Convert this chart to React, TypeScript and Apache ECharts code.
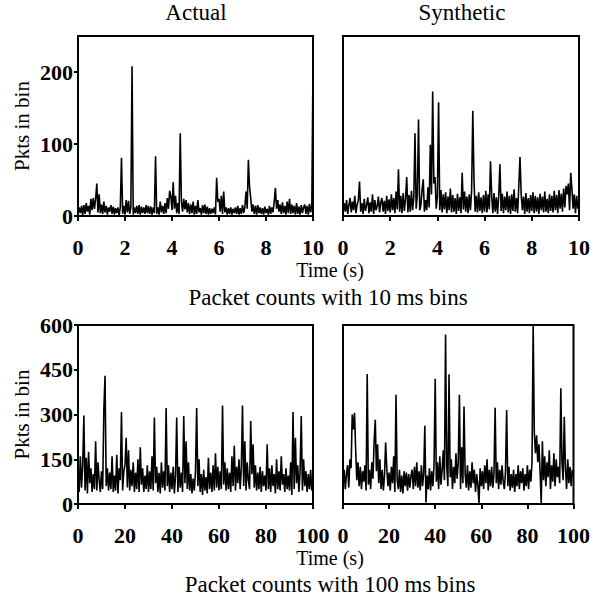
import React, { useEffect, useRef } from "react";
import * as echarts from "echarts";

// Packet counts, 10 ms bins (sampled every 0.05 s, 0..10 s)
const topActual = [
  2, 12, 4, 14, 1, 15, 3, 18, 6, 14, 2, 24, 8, 25, 10, 24, 45, 5, 30, 4,
  16, 3, 20, 5, 14, 2, 12, 6, 15, 3, 13, 2, 11, 4, 12, 1, 12, 81, 3, 14,
  2, 22, 5, 21, 3, 12, 208, 2, 12, 4, 14, 3, 15, 2, 13, 4, 12, 3, 15, 4,
  14, 3, 13, 2, 12, 4, 83, 3, 12, 2, 20, 5, 14, 3, 18, 4, 25, 10, 35, 28,
  8, 47, 10, 28, 4, 18, 3, 115, 20, 6, 24, 9, 22, 5, 18, 3, 16, 4, 20, 2,
  14, 3, 22, 5, 11, 2, 15, 4, 16, 3, 13, 2, 11, 3, 10, 4, 12, 2, 53, 20,
  24, 6, 28, 3, 34, 5, 12, 2, 11, 3, 12, 2, 10, 4, 12, 3, 14, 2, 11, 3,
  15, 4, 12, 34, 10, 78, 40, 25, 6, 16, 3, 14, 2, 15, 4, 12, 3, 11, 2, 13,
  4, 10, 2, 14, 3, 12, 5, 20, 39, 10, 22, 6, 16, 3, 19, 4, 14, 2, 20, 4,
  24, 3, 16, 4, 14, 2, 18, 3, 13, 2, 15, 4, 12, 16, 3, 14, 2, 17, 5, 15,
  210,
];
const topSynthetic = [
  4, 18, 6, 22, 3, 15, 25, 5, 20, 8, 28, 4, 16, 22, 48, 6, 18, 3, 24, 7,
  15, 26, 4, 19, 6, 30, 3, 22, 8, 14, 27, 5, 19, 25, 6, 21, 3, 28, 7, 23,
  5, 30, 8, 25, 4, 34, 9, 65, 6, 28, 4, 32, 7, 24, 54, 5, 29, 6, 35, 8,
  26, 115, 10, 30, 134, 8, 15, 36, 51, 6, 22, 8, 40, 12, 99, 30, 173, 45, 54, 10,
  28, 158, 8, 36, 5, 30, 9, 33, 4, 27, 8, 38, 5, 29, 6, 25, 3, 31, 7, 26,
  4, 60, 9, 34, 6, 27, 4, 30, 8, 36, 146, 51, 6, 28, 5, 33, 7, 26, 4, 29,
  6, 35, 5, 30, 9, 76, 28, 4, 32, 6, 26, 3, 29, 72, 7, 31, 4, 27, 8, 34,
  5, 28, 3, 30, 7, 37, 6, 25, 4, 42, 82, 30, 8, 27, 3, 32, 6, 25, 4, 29,
  7, 33, 4, 28, 6, 26, 3, 31, 8, 27, 5, 34, 6, 24, 4, 30, 7, 28, 5, 35,
  8, 29, 4, 36, 10, 31, 6, 38, 12, 42, 30, 45, 8, 60, 38, 10, 30, 4, 28, 10,
  20,
];
// Packet counts, 100 ms bins (sampled every 0.5 s, 0..100 s)
const bottomActual = [
  120, 40, 160, 55, 130, 297, 45, 155, 35, 175, 70, 120, 40, 100, 50, 210, 45, 140, 80, 40,
  110, 50, 315, 430, 60, 120, 45, 105, 50, 160, 40, 95, 45, 165, 35, 120, 80, 308, 45, 110,
  130, 222, 55, 180, 45, 115, 60, 140, 40, 105, 50, 150, 40, 190, 65, 120, 40, 95, 50, 130,
  40, 110, 50, 160, 45, 290, 70, 125, 40, 105, 35, 140, 55, 110, 45, 322, 60, 130, 40, 105,
  50, 125, 35, 95, 290, 40, 125, 55, 105, 40, 295, 70, 210, 50, 140, 45, 100, 35, 85, 45,
  110, 322, 60, 150, 40, 100, 30, 115, 45, 90, 35, 155, 50, 105, 40, 130, 45, 170, 55, 125,
  45, 110, 50, 330, 65, 140, 45, 120, 50, 105, 40, 160, 60, 195, 45, 125, 70, 150, 50, 120,
  330, 60, 210, 45, 140, 80, 50, 278, 100, 200, 55, 130, 45, 105, 50, 125, 40, 110, 60, 95,
  45, 200, 50, 120, 40, 130, 60, 100, 35, 150, 50, 110, 45, 160, 65, 100, 40, 120, 50, 95,
  45, 140, 30, 308, 50, 222, 70, 130, 40, 105, 295, 45, 150, 60, 110, 40, 100, 50, 115, 45,
  85,
];
const bottomSynthetic = [
  70, 115, 50, 100, 130, 55, 150, 120, 300, 250, 306, 180, 80, 140, 60, 125, 50, 110, 75, 130,
  45, 436, 65, 115, 50, 140, 85, 210, 282, 110, 200, 70, 150, 50, 115, 45, 95, 206, 120, 60,
  105, 45, 125, 70, 160, 40, 366, 80, 50, 115, 40, 95, 35, 110, 60, 105, 45, 100, 55, 95,
  115, 50, 125, 60, 140, 55, 110, 45, 130, 60, 100, 262, 5, 95, 50, 120, 45, 110, 60, 130,
  420, 75, 140, 50, 160, 65, 115, 180, 80, 568, 130, 60, 435, 90, 150, 50, 125, 70, 170, 85,
  140, 366, 50, 190, 70, 327, 100, 55, 130, 45, 110, 55, 140, 70, 115, 40, 100, 65, 3, 120,
  60, 110, 50, 130, 70, 150, 45, 115, 60, 125, 55, 100, 323, 70, 140, 50, 115, 65, 130, 75,
  50, 110, 315, 60, 125, 45, 100, 55, 115, 40, 100, 60, 130, 50, 110, 70, 120, 45, 100, 60,
  130, 50, 115, 75, 140, 600, 240, 170, 230, 140, 200, 110, 3, 210, 80, 160, 60, 140, 90, 180,
  50, 130, 75, 170, 60, 150, 90, 125, 70, 388, 140, 80, 292, 120, 50, 150, 70, 125, 60, 115,
  90,
];

const topStep = 0.05;
const bottomStep = 0.5;
const topXTicks = [0, 2, 4, 6, 8, 10];
const bottomXTicks = [0, 20, 40, 60, 80, 100];
const topYTicks = [0, 100, 200];
const bottomYTicks = [0, 150, 300, 450, 600];
const columnTitles = ["Actual", "Synthetic"];
const xName = "Time (s)";
const yName = "Pkts in bin";
const rowCaptions = ["Packet counts with 10 ms bins", "Packet counts with 100 ms bins"];

const FONT = "'Liberation Serif', 'Times New Roman', serif";

export default function App() {
  const ref = useRef<HTMLDivElement>(null);
  useEffect(() => {
    if (!ref.current) return;
    const chart = echarts.init(ref.current, undefined, { renderer: "svg" });
    const grids = [
      { left: 78, top: 36, width: 235, height: 180 },
      { left: 343, top: 36, width: 236, height: 180 },
      { left: 78, top: 325, width: 235, height: 179 },
      { left: 343, top: 325, width: 236, height: 179 },
    ].map((g) => ({ ...g, show: true, borderColor: "#000", borderWidth: 2, backgroundColor: "transparent" }));

    const mkX = (gi: number, ticks: number[]) => ({
      type: "value",
      gridIndex: gi,
      min: ticks[0],
      max: ticks[ticks.length - 1],
      interval: ticks[1] - ticks[0],
      axisLine: { show: true, lineStyle: { color: "#000", width: 2 } },
      axisTick: { show: true, inside: false, length: 5, lineStyle: { color: "#000", width: 2 } },
      axisLabel: { show: true, color: "#000", fontSize: 22, fontWeight: "bold", fontFamily: FONT, margin: 20 },
      splitLine: { show: false },
    });
    const mkY = (gi: number, ticks: number[], max: number, showLabels: boolean) => ({
      type: "value",
      gridIndex: gi,
      min: 0,
      max,
      interval: ticks[1] - ticks[0],
      name: showLabels ? yName : "",
      nameLocation: "middle",
      nameGap: 46,
      nameTextStyle: { color: "#000", fontSize: 21, fontFamily: FONT },
      axisLine: { show: true, lineStyle: { color: "#000", width: 2 } },
      axisTick: {
        show: showLabels,
        inside: false,
        length: 4,
        customValues: ticks,
        lineStyle: { color: "#000", width: 2 },
      },
      axisLabel: {
        show: showLabels,
        customValues: ticks,
        color: "#000",
        fontSize: 22,
        fontWeight: "bold",
        fontFamily: FONT,
        margin: 5,
      },
      splitLine: { show: false },
    });

    const mkSeries = (gi: number, values: number[], step: number) => ({
      type: "line",
      xAxisIndex: gi,
      yAxisIndex: gi,
      data: values.map((v, i) => [Number((i * step).toFixed(2)), v]),
      showSymbol: false,
      symbol: "none",
      lineStyle: { color: "#000", width: 1.6 },
      clip: true,
      silent: true,
    });

    const txt = (text: string, x: number, y: number, size: number) => ({
      type: "text",
      x,
      y,
      style: {
        text,
        fill: "#000",
        fontSize: size,
        fontFamily: FONT,
        align: "center",
        verticalAlign: "middle",
        textAlign: "center",
        textVerticalAlign: "middle",
      },
    });

    chart.setOption({
      animation: false,
      backgroundColor: "#fff",
      grid: grids,
      xAxis: [mkX(0, topXTicks), mkX(1, topXTicks), mkX(2, bottomXTicks), mkX(3, bottomXTicks)],
      yAxis: [
        mkY(0, topYTicks, 250, true),
        mkY(1, topYTicks, 250, false),
        mkY(2, bottomYTicks, 600, true),
        mkY(3, bottomYTicks, 600, false),
      ],
      series: [
        mkSeries(0, topActual, topStep),
        mkSeries(1, topSynthetic, topStep),
        mkSeries(2, bottomActual, bottomStep),
        mkSeries(3, bottomSynthetic, bottomStep),
      ],
      graphic: [
        txt(columnTitles[0], 196, 12, 23),
        txt(columnTitles[1], 462, 12, 23),
        txt(xName, 330, 270, 20),
        txt(rowCaptions[0], 328, 297, 23),
        txt(xName, 330, 558, 20),
        txt(rowCaptions[1], 330, 584, 23),
      ],
    });
    return () => chart.dispose();
  }, []);
  return (
    <div
      ref={ref}
      style={{ position: "fixed", left: 0, top: 0, width: 593, height: 602, background: "#fff" }}
    />
  );
}
